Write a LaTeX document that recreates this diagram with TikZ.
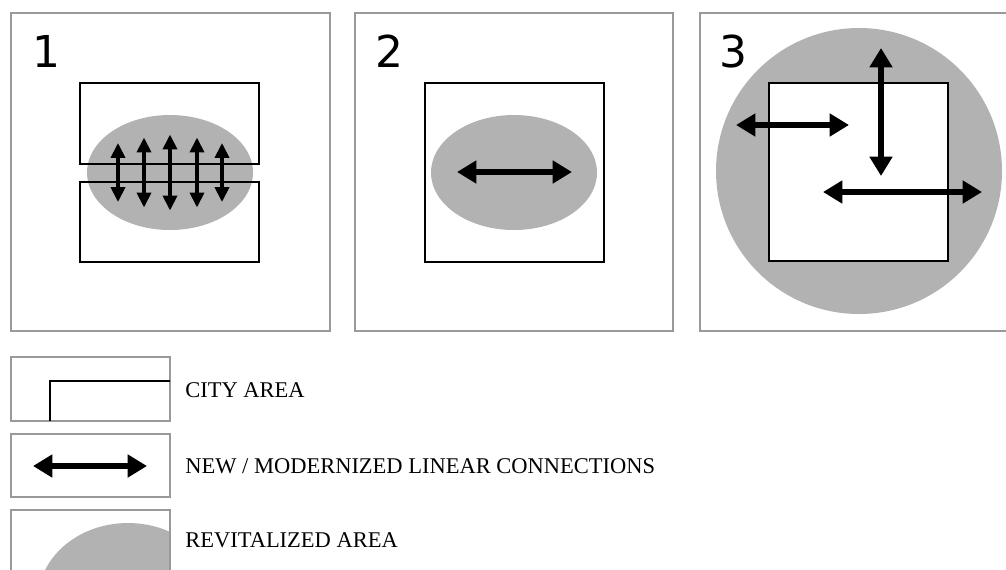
\documentclass[tikz,border=0pt]{standalone}
\usepackage{fontspec}
\setmainfont{Liberation Serif}
\newfontfamily\numfont{DejaVu Sans}
\usetikzlibrary{arrows.meta}

\tikzset{
  panel/.style={draw=black!40, line width=0.6pt},
  city/.style={draw=black, line width=1.45pt},
  revit/.style={fill=black!30},
  thinlink/.style={line width=2pt, {Triangle[length=8.5pt,width=8pt]}-{Triangle[length=8.5pt,width=8pt]}},
  biglink/.style={line width=3.2pt, {Triangle[length=11pt,width=12.5pt]}-{Triangle[length=11pt,width=12.5pt]}},
  num/.style={font=\numfont\fontsize{25}{30}\selectfont, inner sep=0pt, anchor=base west},
  legendtext/.style={font=\fontsize{12.8}{15}\selectfont, inner sep=0pt, anchor=west}
}

\begin{document}
\begin{tikzpicture}[x=0.02cm, y=-0.02cm]
\useasboundingbox (0,0) rectangle (1006,569);

% panel 1
\draw[panel] (11,13) rectangle (330,331);
\node[num] (one) at (32,67) {1};
\fill[revit] (170,172.5) ellipse [x radius=83, y radius=57.5];
\draw[city] (80,83) rectangle (259,164);
\draw[city] (80,182) rectangle (259,262);
\foreach \x/\h in {118/29.5, 144/35, 170/38, 197/35, 222/29.5}
  \draw[thinlink] (\x,172.5-\h) -- (\x,172.5+\h);

% panel 2
\draw[panel] (355,13) rectangle (673,331);
\node[num] (two) at (375,67) {2};
\draw[city] (425,83) rectangle (604,262);
\fill[revit] (514,172.5) ellipse [x radius=83, y radius=57.5];
\coordinate (twoa) at (457,172);
\coordinate (twob) at (572,172);
\draw[biglink] (twoa) -- (twob);

% panel 3
\draw[panel] (1010,13) -- (700,13) -- (700,331) -- (1010,331);
\fill[revit] (859,171) circle [radius=143];
\node[num] (three) at (719,67) {3};
\draw[city, fill=white] (769,83) rectangle (948,261);
\coordinate (wa) at (736,125);
\coordinate (wb) at (849,125);
\coordinate (na) at (881,48);
\coordinate (nb) at (881,176);
\coordinate (ea) at (823,192);
\coordinate (eb) at (982,192);
\draw[biglink] (wa) -- (wb);
\draw[biglink] (na) -- (nb);
\draw[biglink] (ea) -- (eb);

% legend
\draw[panel] (11,357) rectangle (170,421);
\draw[city] (50,421) -- (50,381) -- (170,381);
\node[legendtext] (citylabel) at (185,390) {CITY AREA};

\draw[panel] (11,434) rectangle (170,497);
\coordinate (la) at (33,466);
\coordinate (lb) at (147,466);
\draw[biglink] (la) -- (lb);
\node[legendtext] (linklabel) at (185,466) {NEW / MODERNIZED LINEAR CONNECTIONS};

\begin{scope}
  \clip (11,510) rectangle (170,575);
  \fill[revit] (128,600) ellipse [x radius=90, y radius=77];
\end{scope}
\draw[panel] (11,575) -- (11,510) -- (170,510) -- (170,575);
\node[legendtext] (revitlabel) at (185,540) {REVITALIZED AREA};
\end{tikzpicture}
\end{document}
